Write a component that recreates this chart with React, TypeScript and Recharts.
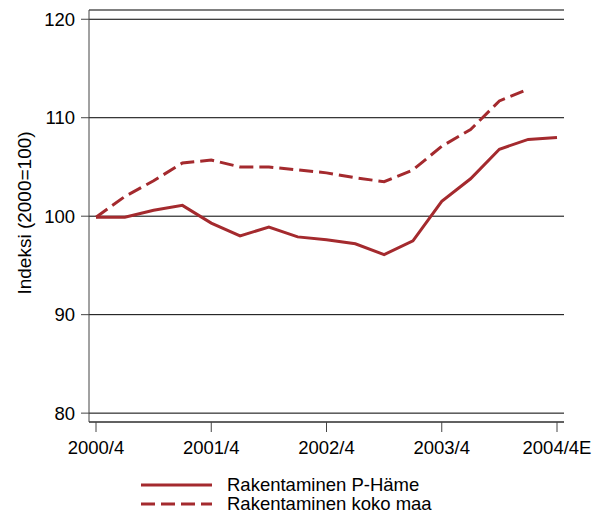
import React from "react";
import {
  LineChart,
  Line,
  XAxis,
  YAxis,
  CartesianGrid,
  Legend,
} from "recharts";

// quarters, 2000/4 .. 2004/4E
const quarters = [
  "2000/4", "2001/1", "2001/2", "2001/3", "2001/4",
  "2002/1", "2002/2", "2002/3", "2002/4",
  "2003/1", "2003/2", "2003/3", "2003/4",
  "2004/1", "2004/2", "2004/3", "2004/4E",
];

// Rakentaminen P-Häme
const pHame = [
  99.9, 99.9, 100.6, 101.1, 99.3, 98.0, 98.9, 97.9, 97.6,
  97.2, 96.1, 97.5, 101.5, 103.8, 106.8, 107.8, 108.0,
];

// Rakentaminen koko maa (no value for last quarter)
const kokoMaa = [
  99.9, 102.0, 103.6, 105.4, 105.7, 105.0, 105.0, 104.7, 104.4,
  103.9, 103.5, 104.7, 107.1, 108.8, 111.7, 112.9, null,
];

const yTicks = [80, 90, 100, 110, 120];

const data = quarters.map((q, i) => ({
  q,
  hame: pHame[i],
  maa: kokoMaa[i],
}));

const RED = "#a42a2e";
const FONT = "'Liberation Sans', Arial, sans-serif";
const FS = 18.5;

const LegendBox = () => (
  <div style={{ fontFamily: FONT, fontSize: FS, color: "#000", lineHeight: "19px" }}>
    <div style={{ display: "flex", alignItems: "center" }}>
      <svg width={86} height={19}>
        <line x1={0} y1={10} x2={71} y2={10} stroke={RED} strokeWidth={3} />
      </svg>
      <span>Rakentaminen P-Häme</span>
    </div>
    <div style={{ display: "flex", alignItems: "center" }}>
      <svg width={86} height={19}>
        <line x1={0} y1={10} x2={71} y2={10} stroke={RED} strokeWidth={3} strokeDasharray="14 6" />
      </svg>
      <span>Rakentaminen koko maa</span>
    </div>
  </div>
);

const App = () => (
  <div style={{ position: "absolute", left: 0, top: 0 }}>
    <LineChart
      width={603}
      height={513}
      data={data}
      margin={{ top: 10, right: 39, left: 0, bottom: 51 }}
    >
      <CartesianGrid vertical={false} stroke="#000" strokeWidth={1} />
      <XAxis
        dataKey="q"
        interval={3}
        padding={{ left: 7, right: 7 }}
        height={40}
        tickSize={10}
        tickMargin={9}
        stroke="#444"
        tick={{ fill: "#000", fontSize: FS, fontFamily: FONT }}
      />
      <XAxis xAxisId="top" dataKey="q" orientation="top" height={0} tick={false} tickLine={false} stroke="#666" />
      <YAxis
        domain={[79.1, 120.94]}
        ticks={yTicks}
        width={89}
        tickSize={8}
        tickMargin={6}
        stroke="#444"
        allowDataOverflow
        tick={{ fill: "#000", fontSize: FS, fontFamily: FONT }}
        label={{
          content: () => (
            <text
              x={24}
              y={213}
              transform="rotate(-90 24 213)"
              textAnchor="middle"
              dominantBaseline="central"
              fontSize={19}
              fontFamily={FONT}
              fill="#000"
            >
              Indeksi (2000=100)
            </text>
          ),
        }}
      />
      <YAxis yAxisId="right" orientation="right" width={0} domain={[79.1, 120.94]} tick={false} tickLine={false} stroke="#666" />
      <Line
        dataKey="hame"
        stroke={RED}
        strokeWidth={3}
        dot={false}
        isAnimationActive={false}
      />
      <Line
        dataKey="maa"
        stroke={RED}
        strokeWidth={3}
        strokeDasharray="14 6"
        dot={false}
        isAnimationActive={false}
      />
      <Legend
        layout="vertical"
        align="center"
        verticalAlign="middle"
        content={() => <LegendBox />}
        wrapperStyle={{ left: 141, top: 475, width: 320, height: 40 }}
      />
    </LineChart>
  </div>
);

export default App;
